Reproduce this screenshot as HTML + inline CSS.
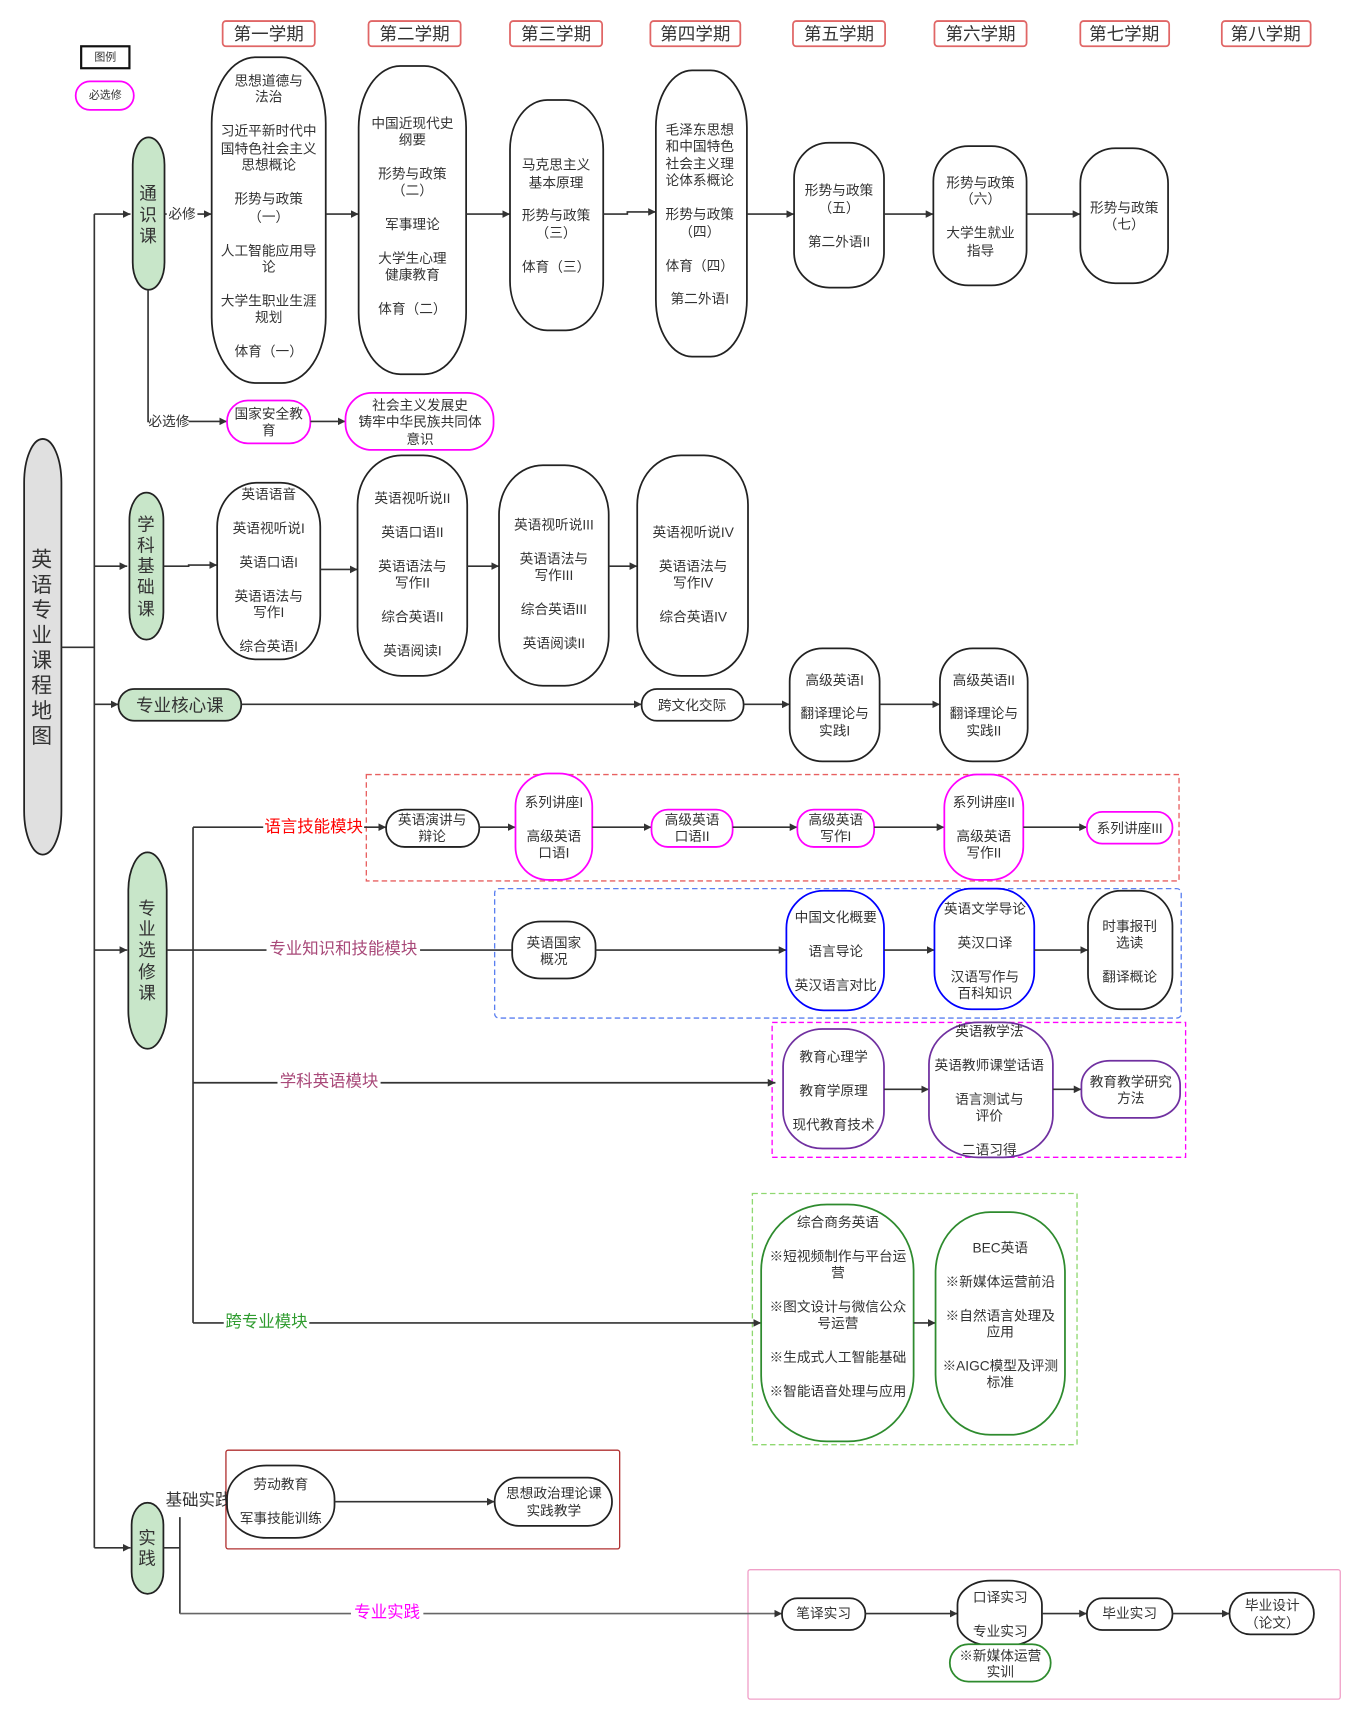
<!DOCTYPE html>
<html><head><meta charset="utf-8"><style>
html,body{margin:0;padding:0;background:#fff;}
svg{display:block;}
text{font-family:"Liberation Sans","Noto Sans CJK SC",sans-serif;fill:#333;font-size:12.5px;text-anchor:middle;dominant-baseline:central;}
.n{fill:#fff;stroke:#222;stroke-width:1.6;}
.g{fill:#c8e6c9;stroke:#222;stroke-width:1.6;}
.m{fill:#fff;stroke:#f0f;stroke-width:1.6;}
.b{fill:#fff;stroke:#00f;stroke-width:1.6;}
.p{fill:#fff;stroke:#7030a0;stroke-width:1.6;}
.gr{fill:#fff;stroke:#2e8b2e;stroke-width:1.6;}
.l{fill:none;stroke:#333;stroke-width:1.5;}
.h{fill:#fff;stroke:#e06666;stroke-width:1.6;}
.hd{font-size:16px;}
.big{font-size:16px;}
</style></head><body>
<svg width="1360" height="1718" viewBox="0 0 1240 1566" xmlns="http://www.w3.org/2000/svg">
<defs><marker id="a" viewBox="0 0 10 10" refX="10" refY="5" markerWidth="7" markerHeight="7" orient="auto" markerUnits="userSpaceOnUse"><path d="M0,0L10,5L0,10z" fill="#333"/></marker></defs>

<!-- headers -->
<rect class="h" x="203" y="19" width="84" height="23" rx="3"/><text class="hd" x="245" y="31">第一学期</text>
<rect class="h" x="336" y="19" width="84" height="23" rx="3"/><text class="hd" x="378" y="31">第二学期</text>
<rect class="h" x="465" y="19" width="84" height="23" rx="3"/><text class="hd" x="507" y="31">第三学期</text>
<rect class="h" x="593" y="19" width="82" height="23" rx="3"/><text class="hd" x="634" y="31">第四学期</text>
<rect class="h" x="723" y="19" width="84" height="23" rx="3"/><text class="hd" x="765" y="31">第五学期</text>
<rect class="h" x="852" y="19" width="84" height="23" rx="3"/><text class="hd" x="894" y="31">第六学期</text>
<rect class="h" x="985" y="19" width="81" height="23" rx="3"/><text class="hd" x="1025" y="31">第七学期</text>
<rect class="h" x="1114" y="19" width="81" height="23" rx="3"/><text class="hd" x="1154" y="31">第八学期</text>

<!-- legend -->
<rect x="74" y="42" width="44" height="20" fill="#fff" stroke="#111" stroke-width="2"/><text x="96" y="52" style="font-size:10px">图例</text>
<rect class="m" x="69" y="74" width="53" height="26" rx="13"/><text x="96" y="87" style="font-size:10px">必选修</text>

<!-- main -->
<rect x="22" y="400" width="34" height="379" rx="17" ry="40" fill="#e0e0e0" stroke="#222" stroke-width="1.6"/>
<text style="font-size:19px"><tspan x="38" y="510">英</tspan><tspan x="38" y="533">语</tspan><tspan x="38" y="556">专</tspan><tspan x="38" y="579">业</tspan><tspan x="38" y="602">课</tspan><tspan x="38" y="625">程</tspan><tspan x="38" y="648">地</tspan><tspan x="38" y="671">图</tspan></text>

<!-- trunk -->
<path class="l" d="M56,590H86M86,195V1411"/>
<path class="l" d="M86,195H119" marker-end="url(#a)"/>
<path class="l" d="M86,516H116" marker-end="url(#a)"/>
<path class="l" d="M86,642H108" marker-end="url(#a)"/>
<path class="l" d="M86,866H116" marker-end="url(#a)"/>
<path class="l" d="M86,1411H119" marker-end="url(#a)"/>

<!-- categories -->
<rect class="g" x="121" y="125" width="29" height="139" rx="14.5" ry="25"/>
<text class="big"><tspan x="135" y="176">通</tspan><tspan x="135" y="196">识</tspan><tspan x="135" y="215">课</tspan></text>
<rect class="g" x="118" y="449" width="31" height="134" rx="15.5" ry="25"/>
<text class="big"><tspan x="133" y="478">学</tspan><tspan x="133" y="497">科</tspan><tspan x="133" y="516">基</tspan><tspan x="133" y="535">础</tspan><tspan x="133" y="555">课</tspan></text>
<rect class="g" x="108" y="628" width="112" height="29" rx="14.5"/><text class="big" x="164" y="643">专业核心课</text>
<rect class="g" x="117" y="777" width="35" height="179" rx="17.5" ry="35"/>
<text class="big"><tspan x="134" y="828">专</tspan><tspan x="134" y="847">业</tspan><tspan x="134" y="866">选</tspan><tspan x="134" y="886">修</tspan><tspan x="134" y="905">课</tspan></text>
<rect class="g" x="120" y="1370" width="29" height="83" rx="14.5" ry="20"/>
<text class="big"><tspan x="134" y="1402">实</tspan><tspan x="134" y="1421">践</tspan></text>

<!-- 通识 row -->
<path class="l" d="M150,195H193" marker-end="url(#a)"/>
<rect x="152" y="187" width="28" height="16" fill="#fff"/><text x="166" y="195">必修</text>
<rect class="n" x="193" y="52" width="104" height="297" rx="40" ry="60"/>
<text><tspan x="245" y="73">思想道德与</tspan><tspan x="245" y="88">法治</tspan><tspan x="245" y="119">习近平新时代中</tspan><tspan x="245" y="135">国特色社会主义</tspan><tspan x="245" y="150">思想概论</tspan><tspan x="245" y="181">形势与政策</tspan><tspan x="245" y="197">（一）</tspan><tspan x="245" y="228">人工智能应用导</tspan><tspan x="245" y="243">论</tspan><tspan x="245" y="274">大学生职业生涯</tspan><tspan x="245" y="289">规划</tspan><tspan x="245" y="320">体育（一）</tspan></text>
<path class="l" d="M297,195H327" marker-end="url(#a)"/>
<rect class="n" x="327" y="60" width="98" height="281" rx="38" ry="56"/>
<text><tspan x="376" y="112">中国近现代史</tspan><tspan x="376" y="127">纲要</tspan><tspan x="376" y="158">形势与政策</tspan><tspan x="376" y="173">（二）</tspan><tspan x="376" y="204">军事理论</tspan><tspan x="376" y="235">大学生心理</tspan><tspan x="376" y="250">健康教育</tspan><tspan x="376" y="281">体育（二）</tspan></text>
<path class="l" d="M425,195H465" marker-end="url(#a)"/>
<rect class="n" x="465" y="91" width="85" height="210" rx="34" ry="45"/>
<text><tspan x="507" y="150">马克思主义</tspan><tspan x="507" y="166">基本原理</tspan><tspan x="507" y="196">形势与政策</tspan><tspan x="507" y="212">（三）</tspan><tspan x="507" y="243">体育（三）</tspan></text>
<path class="l" d="M550,195H572V193H598" marker-end="url(#a)"/>
<rect class="n" x="598" y="64" width="83" height="261" rx="33" ry="52"/>
<text><tspan x="638" y="118">毛泽东思想</tspan><tspan x="638" y="133">和中国特色</tspan><tspan x="638" y="149">社会主义理</tspan><tspan x="638" y="164">论体系概论</tspan><tspan x="638" y="195">形势与政策</tspan><tspan x="638" y="211">（四）</tspan><tspan x="638" y="242">体育（四）</tspan><tspan x="638" y="272">第二外语I</tspan></text>
<path class="l" d="M681,195H724" marker-end="url(#a)"/>
<rect class="n" x="724" y="130" width="82" height="132" rx="32" ry="32"/>
<text><tspan x="765" y="173">形势与政策</tspan><tspan x="765" y="189">（五）</tspan><tspan x="765" y="220">第二外语II</tspan></text>
<path class="l" d="M806,195H851" marker-end="url(#a)"/>
<rect class="n" x="851" y="133" width="85" height="127" rx="32" ry="32"/>
<text><tspan x="894" y="166">形势与政策</tspan><tspan x="894" y="181">（六）</tspan><tspan x="894" y="212">大学生就业</tspan><tspan x="894" y="228">指导</tspan></text>
<path class="l" d="M936,195H985" marker-end="url(#a)"/>
<rect class="n" x="985" y="135" width="80" height="123" rx="32" ry="32"/>
<text><tspan x="1025" y="189">形势与政策</tspan><tspan x="1025" y="204">（七）</tspan></text>

<!-- 必选修 -->
<path class="l" d="M135,264V384H207" marker-end="url(#a)"/>
<rect x="136" y="376" width="36" height="16" fill="#fff"/><text x="154" y="384">必选修</text>
<rect class="m" x="207" y="365" width="76" height="39" rx="19"/>
<text><tspan x="245" y="377">国家安全教</tspan><tspan x="245" y="392">育</tspan></text>
<path class="l" d="M283,384H315" marker-end="url(#a)"/>
<rect class="m" x="315" y="358" width="135" height="52" rx="24"/>
<text><tspan x="383" y="369">社会主义发展史</tspan><tspan x="383" y="384">铸牢中华民族共同体</tspan><tspan x="383" y="400">意识</tspan></text>

<!-- 学科 row -->
<path class="l" d="M149,516H172V515H198" marker-end="url(#a)"/>
<rect class="n" x="198" y="440" width="94" height="161" rx="36" ry="40"/>
<text><tspan x="245" y="450">英语语音</tspan><tspan x="245" y="481">英语视听说I</tspan><tspan x="245" y="512">英语口语I</tspan><tspan x="245" y="543">英语语法与</tspan><tspan x="245" y="558">写作I</tspan><tspan x="245" y="589">综合英语I</tspan></text>
<path class="l" d="M292,519H326" marker-end="url(#a)"/>
<rect class="n" x="326" y="415" width="100" height="201" rx="40" ry="45"/>
<text><tspan x="376" y="454">英语视听说II</tspan><tspan x="376" y="485">英语口语II</tspan><tspan x="376" y="516">英语语法与</tspan><tspan x="376" y="531">写作II</tspan><tspan x="376" y="562">综合英语II</tspan><tspan x="376" y="593">英语阅读I</tspan></text>
<path class="l" d="M426,516H455" marker-end="url(#a)"/>
<rect class="n" x="455" y="424" width="100" height="201" rx="40" ry="45"/>
<text><tspan x="505" y="478">英语视听说III</tspan><tspan x="505" y="509">英语语法与</tspan><tspan x="505" y="524">写作III</tspan><tspan x="505" y="555">综合英语III</tspan><tspan x="505" y="586">英语阅读II</tspan></text>
<path class="l" d="M555,516H581" marker-end="url(#a)"/>
<rect class="n" x="581" y="415" width="101" height="201" rx="40" ry="45"/>
<text><tspan x="632" y="485">英语视听说IV</tspan><tspan x="632" y="516">英语语法与</tspan><tspan x="632" y="531">写作IV</tspan><tspan x="632" y="562">综合英语IV</tspan></text>

<!-- 核心 row -->
<path class="l" d="M220,642H585" marker-end="url(#a)"/>
<rect class="n" x="585" y="628" width="93" height="29" rx="14"/><text x="631" y="643">跨文化交际</text>
<path class="l" d="M678,642H720" marker-end="url(#a)"/>
<rect class="n" x="720" y="591" width="82" height="103" rx="30" ry="30"/>
<text><tspan x="761" y="620">高级英语I</tspan><tspan x="761" y="650">翻译理论与</tspan><tspan x="761" y="666">实践I</tspan></text>
<path class="l" d="M802,642H857" marker-end="url(#a)"/>
<rect class="n" x="857" y="591" width="80" height="103" rx="30" ry="30"/>
<text><tspan x="897" y="620">高级英语II</tspan><tspan x="897" y="650">翻译理论与</tspan><tspan x="897" y="666">实践II</tspan></text>

<!-- 选修 trunk -->
<path class="l" d="M152,866H176M176,754V1206"/>
<!-- boxes -->
<rect x="334" y="706" width="741" height="97" fill="none" stroke="#e86060" stroke-width="1.2" stroke-dasharray="5,3"/>
<rect x="451" y="810" width="626" height="118" rx="4" fill="none" stroke="#5a7ff0" stroke-width="1.2" stroke-dasharray="5,3"/>
<rect x="704" y="932" width="377" height="123" fill="none" stroke="#f0f" stroke-width="1.2" stroke-dasharray="5,3"/>
<rect x="686" y="1088" width="296" height="229" fill="none" stroke="#8fd870" stroke-width="1.2" stroke-dasharray="5,3"/>

<!-- 语言技能 -->
<path class="l" d="M176,754H352" marker-end="url(#a)"/>
<rect x="240" y="744" width="92" height="20" fill="#fff"/><text x="286" y="754" style="fill:#f00;font-size:15px">语言技能模块</text>
<rect class="n" x="352" y="738" width="85" height="34" rx="17"/>
<text><tspan x="394" y="747">英语演讲与</tspan><tspan x="394" y="762">辩论</tspan></text>
<path class="l" d="M437,754H470" marker-end="url(#a)"/>
<rect class="m" x="470" y="705" width="70" height="97" rx="30" ry="30"/>
<text><tspan x="505" y="731">系列讲座I</tspan><tspan x="505" y="762">高级英语</tspan><tspan x="505" y="777">口语I</tspan></text>
<path class="l" d="M540,754H594" marker-end="url(#a)"/>
<rect class="m" x="594" y="738" width="74" height="34" rx="15"/>
<text><tspan x="631" y="747">高级英语</tspan><tspan x="631" y="762">口语II</tspan></text>
<path class="l" d="M668,754H727" marker-end="url(#a)"/>
<rect class="m" x="727" y="738" width="70" height="34" rx="15"/>
<text><tspan x="762" y="747">高级英语</tspan><tspan x="762" y="762">写作I</tspan></text>
<path class="l" d="M797,754H861" marker-end="url(#a)"/>
<rect class="m" x="861" y="706" width="72" height="96" rx="30" ry="30"/>
<text><tspan x="897" y="731">系列讲座II</tspan><tspan x="897" y="762">高级英语</tspan><tspan x="897" y="777">写作II</tspan></text>
<path class="l" d="M933,754H991" marker-end="url(#a)"/>
<rect class="m" x="991" y="740" width="78" height="29" rx="14"/><text x="1030" y="755">系列讲座III</text>

<!-- 专业知识 -->
<path class="l" d="M176,866H467"/>
<rect x="243" y="856" width="140" height="20" fill="#fff"/><text x="313" y="865" style="fill:#a84878;font-size:15px">专业知识和技能模块</text>
<rect class="n" x="467" y="840" width="76" height="52" rx="26" ry="22"/>
<text><tspan x="505" y="859">英语国家</tspan><tspan x="505" y="874">概况</tspan></text>
<path class="l" d="M543,866H717" marker-end="url(#a)"/>
<rect class="b" x="717" y="812" width="89" height="109" rx="34" ry="34"/>
<text><tspan x="762" y="836">中国文化概要</tspan><tspan x="762" y="867">语言导论</tspan><tspan x="762" y="898">英汉语言对比</tspan></text>
<path class="l" d="M806,866H852" marker-end="url(#a)"/>
<rect class="b" x="852" y="810" width="91" height="110" rx="34" ry="34"/>
<text><tspan x="898" y="828">英语文学导论</tspan><tspan x="898" y="859">英汉口译</tspan><tspan x="898" y="890">汉语写作与</tspan><tspan x="898" y="905">百科知识</tspan></text>
<path class="l" d="M943,866H992" marker-end="url(#a)"/>
<rect class="n" x="992" y="812" width="77" height="108" rx="30" ry="32"/>
<text><tspan x="1030" y="844">时事报刊</tspan><tspan x="1030" y="859">选读</tspan><tspan x="1030" y="890">翻译概论</tspan></text>

<!-- 学科英语 -->
<path class="l" d="M176,987H707" marker-end="url(#a)"/>
<rect x="253" y="977" width="94" height="20" fill="#fff"/><text x="300" y="986" style="fill:#a84878;font-size:15px">学科英语模块</text>
<rect class="p" x="714" y="938" width="92" height="109" rx="36" ry="34"/>
<text><tspan x="760" y="963">教育心理学</tspan><tspan x="760" y="994">教育学原理</tspan><tspan x="760" y="1025">现代教育技术</tspan></text>
<path class="l" d="M806,993H847" marker-end="url(#a)"/>
<rect class="p" x="847" y="932" width="113" height="123" rx="45" ry="38"/>
<text><tspan x="902" y="940">英语教学法</tspan><tspan x="902" y="971">英语教师课堂话语</tspan><tspan x="902" y="1002">语言测试与</tspan><tspan x="902" y="1017">评价</tspan><tspan x="902" y="1048">二语习得</tspan></text>
<path class="l" d="M960,993H986" marker-end="url(#a)"/>
<rect class="p" x="986" y="967" width="90" height="52" rx="26" ry="22"/>
<text><tspan x="1031" y="986">教育教学研究</tspan><tspan x="1031" y="1001">方法</tspan></text>

<!-- 跨专业 -->
<path class="l" d="M176,1206H694" marker-end="url(#a)"/>
<rect x="204" y="1196" width="78" height="20" fill="#fff"/><text x="243" y="1205" style="fill:#2e9b2e;font-size:15px">跨专业模块</text>
<rect class="gr" x="694" y="1098" width="139" height="216" rx="60" ry="60"/>
<text><tspan x="764" y="1114">综合商务英语</tspan><tspan x="764" y="1145">※短视频制作与平台运</tspan><tspan x="764" y="1160">营</tspan><tspan x="764" y="1191">※图文设计与微信公众</tspan><tspan x="764" y="1206">号运营</tspan><tspan x="764" y="1237">※生成式人工智能基础</tspan><tspan x="764" y="1268">※智能语音处理与应用</tspan></text>
<path class="l" d="M833,1206H853" marker-end="url(#a)"/>
<rect class="gr" x="853" y="1105" width="118" height="203" rx="50" ry="55"/>
<text><tspan x="912" y="1137">BEC英语</tspan><tspan x="912" y="1168">※新媒体运营前沿</tspan><tspan x="912" y="1199">※自然语言处理及</tspan><tspan x="912" y="1214">应用</tspan><tspan x="912" y="1245">※AIGC模型及评测</tspan><tspan x="912" y="1260">标准</tspan></text>

<!-- 实践 -->
<path class="l" d="M149,1411H164M164,1383V1471"/>
<rect x="206" y="1322" width="359" height="90" rx="2" fill="none" stroke="#b03030" stroke-width="1.2"/>
<text x="181" y="1368" style="font-size:15px">基础实践</text>
<rect class="n" x="207" y="1336" width="98" height="66" rx="36" ry="30"/>
<text><tspan x="256" y="1353">劳动教育</tspan><tspan x="256" y="1384">军事技能训练</tspan></text>
<path class="l" d="M305,1369H451" marker-end="url(#a)"/>
<rect class="n" x="451" y="1347" width="107" height="44" rx="22"/>
<text><tspan x="505" y="1361">思想政治理论课</tspan><tspan x="505" y="1377">实践教学</tspan></text>

<rect x="682" y="1431" width="540" height="118" rx="2" fill="none" stroke="#f0a0c8" stroke-width="1.2"/>
<path class="l" d="M164,1471H713" marker-end="url(#a)" style="stroke:#666"/>
<rect x="320" y="1461" width="66" height="20" fill="#fff"/><text x="353" y="1470" style="fill:#f0f;font-size:15px">专业实践</text>
<rect class="n" x="713" y="1457" width="76" height="29" rx="14"/><text x="751" y="1471">笔译实习</text>
<path class="l" d="M789,1471H873" marker-end="url(#a)"/>
<rect class="n" x="873" y="1441" width="77" height="59" rx="30" ry="22"/>
<text><tspan x="912" y="1456">口译实习</tspan><tspan x="912" y="1487">专业实习</tspan></text>
<path class="l" d="M950,1471H991" marker-end="url(#a)"/>
<rect class="n" x="991" y="1457" width="78" height="29" rx="14"/><text x="1030" y="1471">毕业实习</text>
<path class="l" d="M1069,1471H1121" marker-end="url(#a)"/>
<rect class="n" x="1121" y="1452" width="77" height="38" rx="19"/>
<text><tspan x="1160" y="1463">毕业设计</tspan><tspan x="1160" y="1479">（论文）</tspan></text>
<rect class="gr" x="866" y="1499" width="92" height="34" rx="17"/>
<text><tspan x="912" y="1509">※新媒体运营</tspan><tspan x="912" y="1524">实训</tspan></text>
</svg>
</body></html>
